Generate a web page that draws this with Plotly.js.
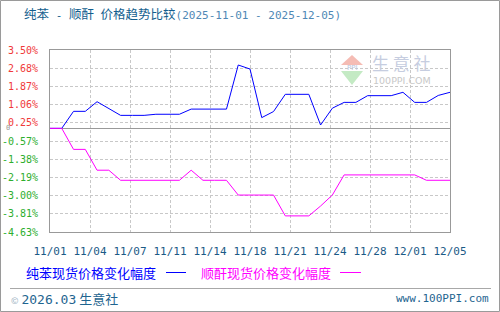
<!DOCTYPE html>
<html>
<head>
<meta charset="utf-8">
<script src="https://cdn.plot.ly/plotly-3.0.1.min.js"></script>
<style>
html,body{margin:0;padding:0;background:#fff;}
#chart{width:500px;height:312px;}
</style>
</head>
<body>
<div id="chart"></div>
<script>
// ---- data ----
const dates = ["11/01","11/02","11/03","11/04","11/05","11/06","11/07","11/08","11/09","11/10",
  "11/11","11/12","11/13","11/14","11/15","11/16","11/17","11/18","11/19","11/20",
  "11/21","11/22","11/23","11/24","11/25","11/26","11/27","11/28","11/29","11/30",
  "12/01","12/02","12/03","12/04","12/05"];
const benzeneChange = [0,0,0.76,0.76,1.19,0.90,0.58,0.58,0.58,0.63,
  0.63,0.63,0.86,0.86,0.86,0.86,2.83,2.65,0.48,0.75,
  1.52,1.52,1.52,0.15,0.90,1.16,1.16,1.46,1.46,1.46,
  1.61,1.16,1.16,1.47,1.61];
const maleicChange = [0,0,-0.94,-0.94,-1.87,-1.87,-2.32,-2.32,-2.32,-2.32,
  -2.32,-2.32,-1.87,-2.32,-2.32,-2.32,-2.98,-2.98,-2.98,-2.98,
  -3.91,-3.91,-3.91,-3.47,-2.98,-2.08,-2.08,-2.08,-2.08,-2.08,
  -2.08,-2.08,-2.32,-2.32,-2.32];
const xTickLabels = ["11/01","11/04","11/07","11/11","11/14","11/18","11/21","11/24","11/28","12/01","12/05"];
const yTickLabels = ["3.50%","2.68%","1.87%","1.06%","0.25%","-0.57%","-1.38%","-2.19%","-3.00%","-3.81%","-4.63%"];
const seriesNames = ["纯苯现货价格变化幅度","顺酐现货价格变化幅度"];
const productA = "纯苯";
const productB = "顺酐";
const titleSuffix = "价格趋势比较";
const titleDates = "(2025-11-01 - 2025-12-05)";

// ---- layout helpers ----
const L = 50, R = 450, T = 50, B = 232, W = 500, H = 312;
const px = v => (v - L) / (R - L);
const py = v => (B - v) / (B - T);

const idx = dates.map((d, i) => i);
const step = (dates.length - 1) / (xTickLabels.length - 1);
const xTickVals = xTickLabels.map((t, k) => k * step);
const yTickVals = yTickLabels.map(t => parseFloat(t));
const yTickText = yTickLabels.map(t =>
  `<span style="color:${t.startsWith('-') ? '#2eae2e' : '#f03a3a'}">${t}</span>`);

const mono = "DejaVu Sans Mono, Liberation Mono, monospace";
const cjk = "Noto Sans CJK SC, sans-serif";
const ms = s => `<span style="font-family:${mono};font-size:11px">${s}</span>`;
const nb = '\u00a0';

const traces = [
  {x: idx, y: benzeneChange, type: 'scatter', mode: 'lines', name: seriesNames[0],
   line: {color: '#0000ff', width: 1}, hoverinfo: 'skip'},
  {x: idx, y: maleicChange, type: 'scatter', mode: 'lines', name: seriesNames[1],
   line: {color: '#ff00ff', width: 1}, hoverinfo: 'skip'}
];

const titleHtml = `<span style="color:#135e8e">${productA}${ms(nb + '-' + nb)}${productB}${ms(nb)}${titleSuffix}</span>` +
  `<span style="color:#4f88b5">${ms(titleDates)}</span>`;

const layout = {
  width: W, height: H,
  margin: {l: L, r: W - R, t: T, b: H - B, pad: 0},
  paper_bgcolor: '#ffffff', plot_bgcolor: '#ffffff',
  showlegend: false,
  title: {
    text: titleHtml,
    font: {family: cjk, size: 12.5, color: '#135e8e'},
    x: 24 / W, xanchor: 'left', xref: 'container',
    y: 1 - 14.5 / H, yanchor: 'middle', yref: 'container'
  },
  xaxis: {
    range: [0, dates.length - 1], tickmode: 'array', tickvals: xTickVals, ticktext: xTickLabels,
    showgrid: true, gridcolor: '#c8c8c8', griddash: '3px,2px', gridwidth: 1,
    showline: true, mirror: true, linecolor: '#999999', linewidth: 1,
    ticks: '', ticklabelstandoff: 9, zeroline: false,
    tickfont: {family: mono, size: 11, color: '#1b5a86'}, fixedrange: true
  },
  yaxis: {
    range: [yTickVals[yTickVals.length - 1], yTickVals[0]], tickmode: 'array',
    tickvals: yTickVals, ticktext: yTickText,
    showgrid: true, gridcolor: '#c8c8c8', griddash: '3px,2px', gridwidth: 1,
    showline: true, mirror: true, linecolor: '#999999', linewidth: 1,
    zeroline: true, zerolinecolor: '#999999', zerolinewidth: 1,
    ticks: '', ticklabelstandoff: 9,
    tickfont: {family: mono, size: 10, color: '#f03a3a'}, fixedrange: true
  },
  shapes: [
    // outer frame
    {type: 'rect', xref: 'paper', yref: 'paper', x0: px(0.5), x1: px(499.5), y0: py(311.5), y1: py(0.5),
     line: {color: '#9a9a9a', width: 1}, layer: 'above'},
    // footer separator
    {type: 'line', xref: 'paper', yref: 'paper', x0: px(10), x1: px(491), y0: py(288.5), y1: py(288.5),
     line: {color: '#a8a8a8', width: 1}},
    // legend line samples
    {type: 'line', xref: 'paper', yref: 'paper', x0: px(166), x1: px(186), y0: py(272.5), y1: py(272.5),
     line: {color: '#0000ff', width: 1}},
    {type: 'line', xref: 'paper', yref: 'paper', x0: px(340), x1: px(361), y0: py(272.5), y1: py(272.5),
     line: {color: '#ff00ff', width: 1}},
    // watermark triangles
    {type: 'path', xref: 'paper', yref: 'paper', layer: 'below',
     path: `M ${px(341)} ${py(65)} L ${px(363)} ${py(65)} L ${px(352)} ${py(55)} Z`,
     fillcolor: '#f5bcb4', line: {width: 0}},
    {type: 'path', xref: 'paper', yref: 'paper', layer: 'below',
     path: `M ${px(341)} ${py(71)} L ${px(363)} ${py(71)} L ${px(352)} ${py(85)} Z`,
     fillcolor: '#c4eac4', line: {width: 0}}
  ],
  annotations: [
    {text: '0', xref: 'paper', yref: 'paper', x: px(7.5), y: py(127.5), xanchor: 'center', yanchor: 'middle',
     showarrow: false, font: {family: mono, size: 7, color: '#999999'}},
    {text: 'PPI', xref: 'paper', yref: 'paper', x: px(352), y: py(68), xanchor: 'center', yanchor: 'middle',
     showarrow: false, font: {family: 'DejaVu Sans, sans-serif', size: 7, color: '#b8c4dc'}},
    {text: `生${nb}意${nb}社`, xref: 'paper', yref: 'paper', x: px(370), y: py(63), xanchor: 'left', yanchor: 'middle',
     showarrow: false, font: {family: cjk, size: 17, color: '#c6cde0'}},
    {text: '100PPI.COM', xref: 'paper', yref: 'paper', x: px(371), y: py(80.5), xanchor: 'left', yanchor: 'middle',
     showarrow: false, font: {family: 'DejaVu Sans, sans-serif', size: 9.5, color: '#c8c8c8'}},
    {text: seriesNames[0], xref: 'paper', yref: 'paper', x: px(24), y: py(272), xanchor: 'left', yanchor: 'middle',
     showarrow: false, font: {family: cjk, size: 13, color: '#0000ff'}},
    {text: seriesNames[1], xref: 'paper', yref: 'paper', x: px(199), y: py(272), xanchor: 'left', yanchor: 'middle',
     showarrow: false, font: {family: cjk, size: 13, color: '#ff00ff'}},
    {text: `<span style="color:#9ab0c0;font-size:9px">©</span> <span style="font-family:${mono}">2026.03</span> 生意社`,
     xref: 'paper', yref: 'paper', x: px(9), y: py(298), xanchor: 'left', yanchor: 'middle',
     showarrow: false, font: {family: cjk, size: 13, color: '#1f6590'}},
    {text: 'www.100PPI.com', xref: 'paper', yref: 'paper', x: px(491), y: py(298), xanchor: 'right', yanchor: 'middle',
     showarrow: false, font: {family: mono, size: 11, color: '#1f6590'}}
  ]
};

Plotly.newPlot('chart', traces, layout, {staticPlot: true, displayModeBar: false});
</script>
</body>
</html>
